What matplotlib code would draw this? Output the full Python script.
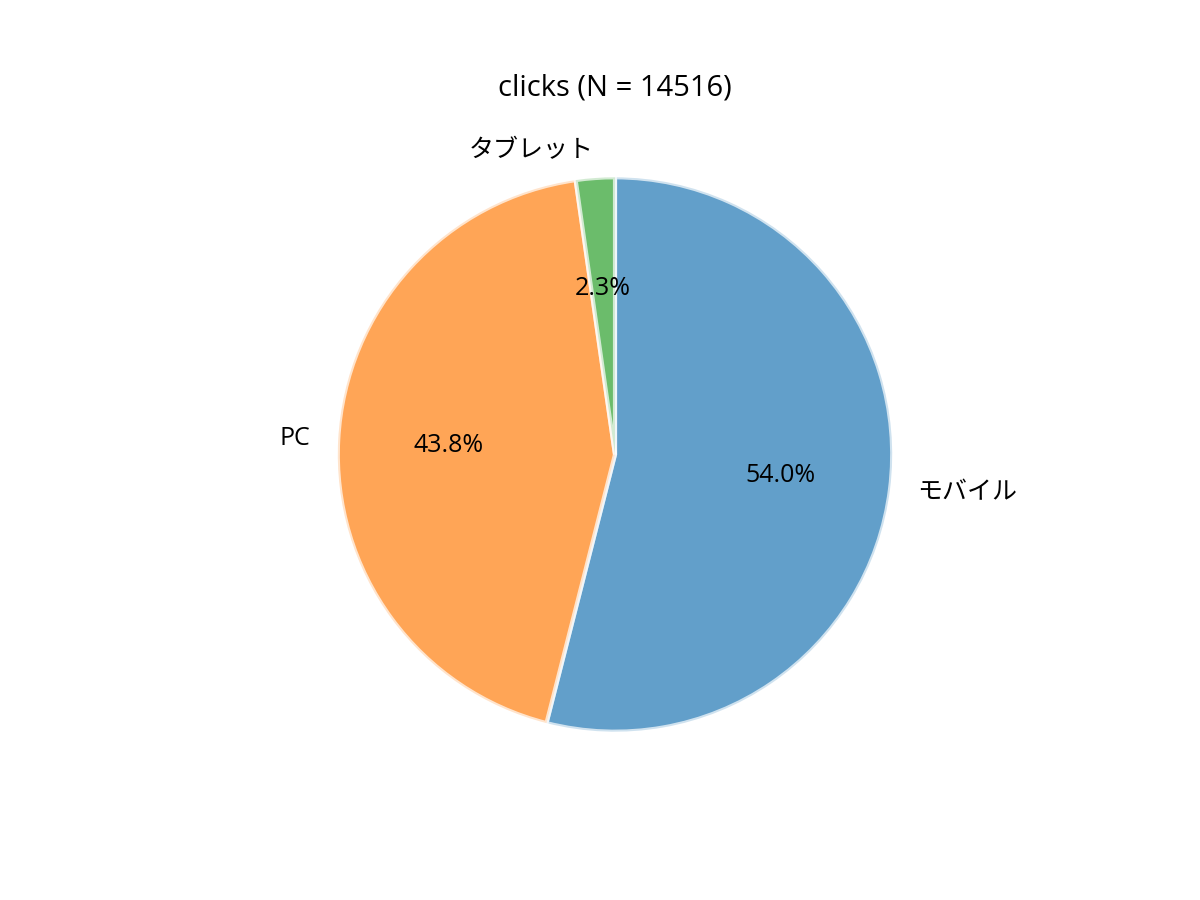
import matplotlib
matplotlib.use("Agg")
import matplotlib.pyplot as plt

plt.rcParams['font.family'] = ['Open Sans', 'Noto Sans CJK JP', 'DejaVu Sans']

# データ
labels = ["モバイル", "PC", "タブレット"]
clicks = [7835, 6352, 329]
colors = ["tab:blue", "tab:orange", "tab:green"]
total = sum(clicks)

fig, ax = plt.subplots(figsize=(8, 6), dpi=150)
ax.pie(clicks, labels=labels, colors=colors, autopct="%1.1f%%",
       startangle=90, counterclock=False,
       wedgeprops={"edgecolor": "white", "linewidth": 2, "alpha": 0.7},
       textprops={"fontsize": 12})
ax.set_title(f"clicks (N = {total})", fontsize=14)
fig.savefig("out.png")
